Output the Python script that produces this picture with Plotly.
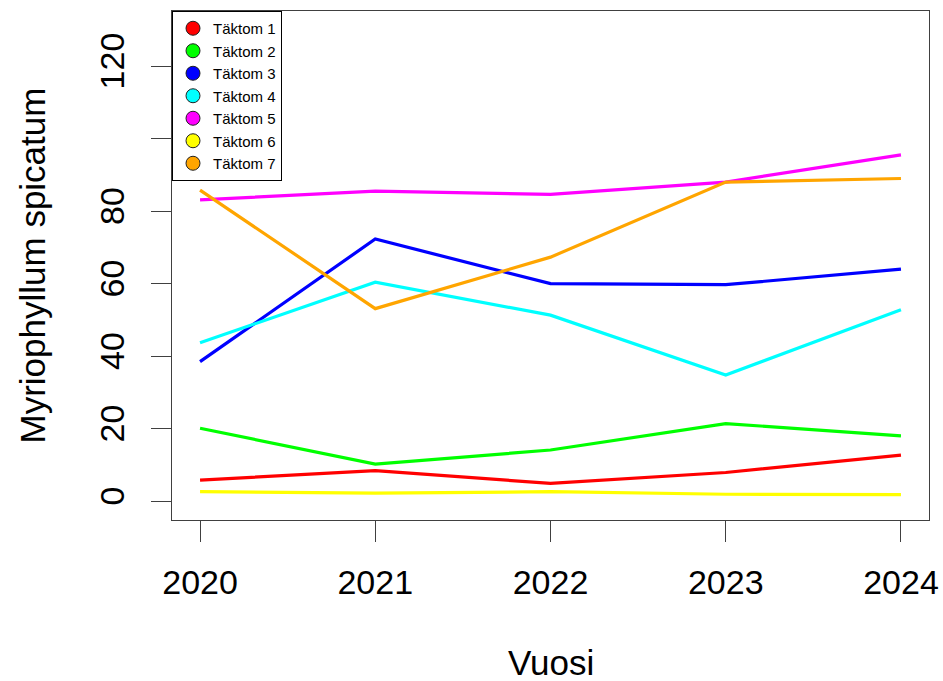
import plotly.graph_objects as go

# Survey years and sampled values per extraction site
years = [2020, 2021, 2022, 2023, 2024]
taktom_1 = [5.8, 8.4, 4.9, 7.9, 12.7]
taktom_2 = [20.1, 10.2, 14.1, 21.4, 18.0]
taktom_3 = [38.5, 72.3, 60.0, 59.7, 64.0]
taktom_4 = [43.7, 60.4, 51.3, 34.8, 52.8]
taktom_5 = [83.1, 85.5, 84.6, 88.0, 95.5]
taktom_6 = [2.6, 2.2, 2.6, 1.9, 1.8]
taktom_7 = [85.8, 53.1, 67.3, 88.0, 89.0]

series_names = ["Täktom 1", "Täktom 2", "Täktom 3", "Täktom 4",
                "Täktom 5", "Täktom 6", "Täktom 7"]
series_values = [taktom_1, taktom_2, taktom_3, taktom_4,
                 taktom_5, taktom_6, taktom_7]
colors = ["#FF0000", "#00FF00", "#0000FF", "#00FFFF",
          "#FF00FF", "#FFFF00", "#FFA500"]

y_ticks = [0, 20, 40, 60, 80, 100, 120]
y_tick_text = ["0", "20", "40", "60", "80", "", "120"]

FONT = "Arial, Liberation Sans, sans-serif"
AXIS_COLOR = "#404040"

fig = go.Figure()

# Lines
for name, vals, col in zip(series_names, series_values, colors):
    fig.add_trace(go.Scatter(
        x=years, y=vals, mode="lines", name=name,
        line=dict(color=col, width=3.2), showlegend=False,
    ))

# Legend entries shown as filled circles
for name, col in zip(series_names, colors):
    fig.add_trace(go.Scatter(
        x=[None], y=[None], mode="markers", name=name,
        marker=dict(color=col, size=14, symbol="circle",
                    line=dict(color="#222222", width=1)),
    ))

fig.update_layout(
    width=943, height=681,
    margin=dict(l=172, r=14, t=11, b=161, autoexpand=False),
    paper_bgcolor="white", plot_bgcolor="white",
    font=dict(family=FONT, color="black"),
    legend=dict(
        x=0, y=1, xanchor="left", yanchor="top",
        bgcolor="white", bordercolor="black", borderwidth=1,
        font=dict(size=15, family=FONT, color="black"),
        itemclick=False,
    ),
    xaxis=dict(
        range=[2019.84, 2024.16], tickvals=years,
        ticktext=[str(y) for y in years],
        showgrid=False, zeroline=False,
        showline=True, mirror=True, linecolor=AXIS_COLOR, linewidth=1,
        ticks="outside", ticklen=21, tickcolor=AXIS_COLOR, tickwidth=1,
        tickfont=dict(size=34, family=FONT, color="black"),
        ticklabelstandoff=11,
    ),
    yaxis=dict(
        range=[-5.2, 135.2], tickvals=y_ticks, ticktext=y_tick_text,
        tickangle=-90,
        showgrid=False, zeroline=False,
        showline=True, mirror=True, linecolor=AXIS_COLOR, linewidth=1,
        ticks="outside", ticklen=20, tickcolor=AXIS_COLOR, tickwidth=1,
        tickfont=dict(size=34, family=FONT, color="black"),
        ticklabelstandoff=13,
    ),
    annotations=[
        dict(text="Vuosi", xref="paper", yref="paper", x=0.5, y=0,
             xanchor="center", yanchor="middle", yshift=-142,
             showarrow=False, font=dict(size=35, family=FONT, color="black")),
        dict(text="Myriophyllum spicatum", xref="paper", yref="paper",
             x=0, y=0.5, xanchor="center", yanchor="middle", xshift=-140,
             textangle=-90, showarrow=False,
             font=dict(size=35, family=FONT, color="black")),
    ],
)

fig.write_html("out.html")
